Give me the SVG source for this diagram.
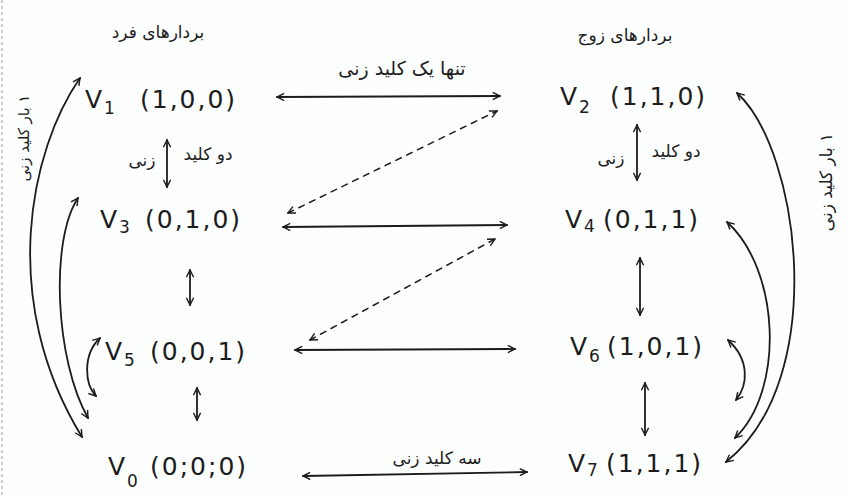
<svg xmlns="http://www.w3.org/2000/svg" width="850" height="496" viewBox="0 0 850 496">
<style>
.node{font-family:"DejaVu Sans","Liberation Sans",sans-serif;font-size:25px;fill:#1c1c1c;letter-spacing:2px}
.sub{font-size:17px}
.fa{font-family:"DejaVu Sans","Noto Sans",sans-serif;font-size:17px;fill:#1c1c1c;text-anchor:middle}
.ln{fill:none;stroke:#1c1c1c;stroke-width:1.8;stroke-linecap:round;marker-start:url(#ah);marker-end:url(#ah)}
.dot{stroke-dasharray:6 6;stroke-width:1.5}
</style>
<defs>
<marker id="ah" viewBox="0 0 10 10" refX="9" refY="5" markerWidth="9" markerHeight="9" markerUnits="userSpaceOnUse" orient="auto-start-reverse">
<path d="M1,1 L9,5 L1,9" fill="none" stroke="#1c1c1c" stroke-width="1.6"/>
</marker>
</defs>
<rect width="850" height="496" fill="#fdfefe"/>
<line x1="2" y1="0" x2="2" y2="496" stroke="#9a9a9a" stroke-width="1" stroke-dasharray="3 3"/>

<g id="labels">
<text class="fa" x="158" y="38">بردارهای فرد</text>
<text class="fa" x="625" y="41">بردارهای زوج</text>
<text class="fa" x="402" y="75" style="font-size:19px">تنها یک کلید زنی</text>
<text class="fa" x="142" y="166">زنی</text>
<text class="fa" x="208" y="160">دو کلید</text>
<text class="fa" x="611" y="164">زنی</text>
<text class="fa" x="676" y="157">دو کلید</text>
<text class="fa" x="437" y="464">سه کلید زنی</text>
<text class="fa" direction="rtl" style="font-size:15px" transform="translate(29,138) rotate(-90)">۱ بار کلید زنی</text>
<text class="fa" direction="rtl" transform="translate(832,182) rotate(-90)">۱ بار کلید زنی</text>
</g>

<g id="v1"><text class="node" x="85" y="108">V<tspan class="sub" dy="6">1</tspan><tspan x="140" dy="-6">(1,0,0)</tspan></text></g>
<g id="v2"><text class="node" x="560" y="105">V<tspan class="sub" dy="8">2</tspan><tspan x="610" dy="-8">(1,1,0)</tspan></text></g>
<g id="v3"><text class="node" x="100" y="228">V<tspan class="sub" dy="5">3</tspan><tspan x="145" dy="-5">(0,1,0)</tspan></text></g>
<g id="v4"><text class="node" x="565" y="228">V<tspan class="sub" dy="4">4</tspan><tspan x="603" dy="-4">(0,1,1)</tspan></text></g>
<g id="v5"><text class="node" x="105" y="360">V<tspan class="sub" dy="6">5</tspan><tspan x="150" dy="-6">(0,0,1)</tspan></text></g>
<g id="v6"><text class="node" x="570" y="355">V<tspan class="sub" dy="7">6</tspan><tspan x="607" dy="-7">(1,0,1)</tspan></text></g>
<g id="v0"><text class="node" x="108" y="475">V<tspan class="sub" dy="12">0</tspan><tspan x="150" dy="-12">(0;0;0)</tspan></text></g>
<g id="v7"><text class="node" x="568" y="472">V<tspan class="sub" dy="4">7</tspan><tspan x="606" dy="-4">(1,1,1)</tspan></text></g>

<g id="connectors">
<path class="ln" d="M277,97 L500,96"/>
<path class="ln dot" d="M288,213 L497,111"/>
<path class="ln" d="M283,227 L507,225"/>
<path class="ln dot" d="M310,340 L495,239"/>
<path class="ln" d="M295,350 L515,349"/>
<path class="ln" d="M303,476 L527,472"/>
<path class="ln" d="M167,140 L167,187"/>
<path class="ln" d="M190,270 L190,305"/>
<path class="ln" d="M197,388 L197,420"/>
<path class="ln" d="M637,125 L637,180"/>
<path class="ln" d="M640,258 L640,315"/>
<path class="ln" d="M645,383 L645,435"/>
<path class="ln" d="M80,78 C30,150 -2,300 82,437"/>
<path class="ln" d="M78,198 C50,240 55,360 88,418"/>
<path class="ln" d="M100,338 C82,355 85,385 96,396"/>
<path class="ln" d="M737,93 C800,150 830,380 726,462"/>
<path class="ln" d="M727,222 C780,270 785,390 735,438"/>
<path class="ln" d="M728,340 C750,360 748,385 736,400"/>
</g>
</svg>
